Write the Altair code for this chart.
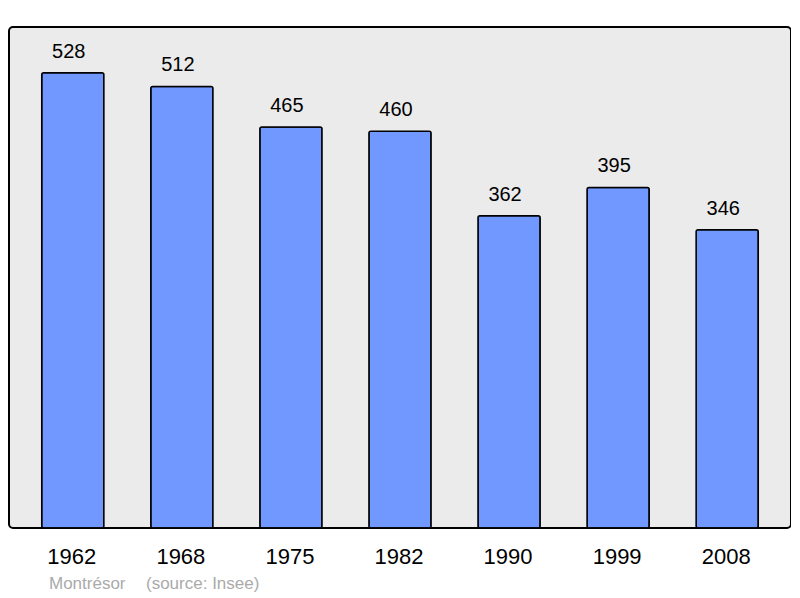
import altair as alt
import pandas as pd

years = ["1962", "1968", "1975", "1982", "1990", "1999", "2008"]
population = [528, 512, 465, 460, 362, 395, 346]
footer_place = ["Montrésor"]
footer_source = ["(source: Insee)"]

df = pd.DataFrame({"year": years, "pop": population})

x = alt.X("year:N", sort=years,
          scale=alt.Scale(paddingInner=0.43, paddingOuter=0.3),
          axis=alt.Axis(title=None, labelAngle=0, labelFontSize=22, labelColor="#000",
                        labelFont="Liberation Sans", ticks=False, domain=False,
                        labelPadding=18, labelBaseline="top", labelOffset=-1))
y = alt.Y("pop:Q", scale=alt.Scale(domain=[0, 581], nice=False),
          axis=None)

bars = alt.Chart(df).mark_bar(color="#7098ff", stroke="black", strokeWidth=1.5,
                              cornerRadius=2).encode(x=x, y=y)
labels = alt.Chart(df).mark_text(baseline="alphabetic", dy=-15, dx=-4, fontSize=20,
                                 font="Liberation Sans", color="#000").encode(
    x=x, y=y, text="pop:Q")
foot1 = alt.Chart(pd.DataFrame({"t": footer_place})).mark_text(
    align="left", baseline="alphabetic", fontSize=17, font="Liberation Sans",
    color="#aaaaaa").encode(x=alt.value(40), y=alt.value(562), text="t:N")
foot2 = alt.Chart(pd.DataFrame({"t": footer_source})).mark_text(
    align="left", baseline="alphabetic", fontSize=17, font="Liberation Sans",
    color="#aaaaaa").encode(x=alt.value(137), y=alt.value(562), text="t:N")

chart = alt.layer(bars, labels, foot1, foot2).properties(
    width=782, height=501,
    background="white",
    autosize=alt.AutoSizeParams(type="none"),
    padding={"left": 1, "top": 19, "right": 0, "bottom": 70},
).configure_view(
    fill="#ebebeb", stroke="black", strokeWidth=2, cornerRadius=4
)

chart.save("out.html", embed_options={"renderer": "svg", "actions": False})
